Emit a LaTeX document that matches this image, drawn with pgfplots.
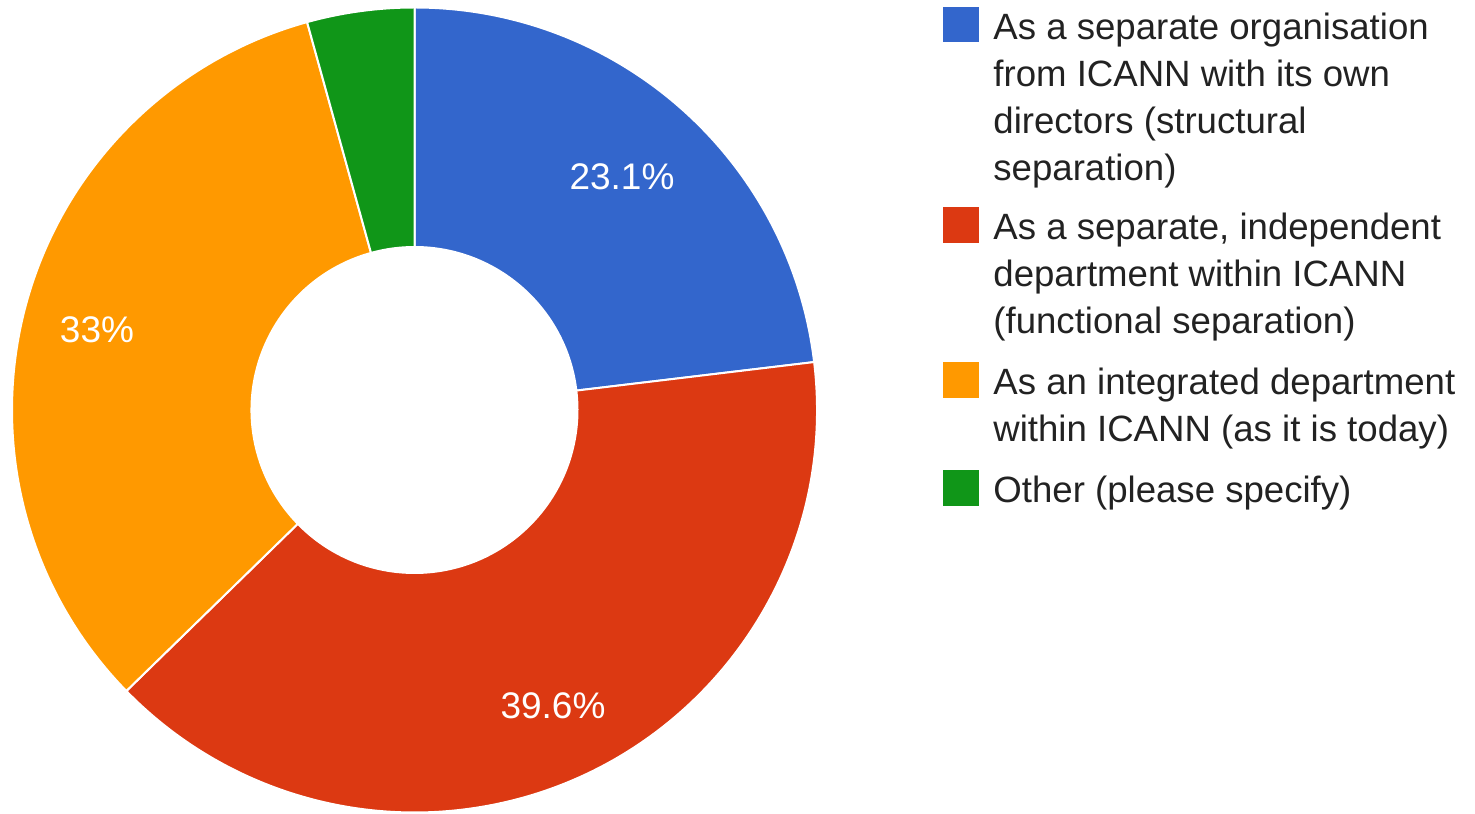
\documentclass[border=0pt]{standalone}
\usepackage{pgfplots}
\pgfplotsset{compat=1.18}
\usepackage{pgfplotstable}
\usepackage{fontspec}
\setmainfont{Liberation Sans}
\definecolor{gblue}{HTML}{3366CC}
\definecolor{gred}{HTML}{DC3912}
\definecolor{gorange}{HTML}{FF9900}
\definecolor{ggreen}{HTML}{109618}
\definecolor{gtext}{HTML}{222222}

\pgfplotstableread{
idx value
0 23.1
1 39.6
2 33.0
3 4.3
}\shares

\pgfplotstablegetelem{0}{value}\of\shares \pgfmathsetmacro\va{\pgfplotsretval}
\pgfplotstablegetelem{1}{value}\of\shares \pgfmathsetmacro\vb{\pgfplotsretval}
\pgfplotstablegetelem{2}{value}\of\shares \pgfmathsetmacro\vc{\pgfplotsretval}
\pgfplotstablegetelem{3}{value}\of\shares \pgfmathsetmacro\vd{\pgfplotsretval}
\pgfmathsetmacro\aA{90}
\pgfmathsetmacro\aB{\aA-3.6*\va}
\pgfmathsetmacro\aC{\aB-3.6*\vb}
\pgfmathsetmacro\aD{\aC-3.6*\vc}
\pgfmathsetmacro\aE{\aD-3.6*\vd}

% geometry in pixel units (1 unit = 0.5pt)
\def\cx{414.5}
\def\cy{403}
\def\Ro{402.5}
\def\Ri{163}

\newcommand\slice[3]{%
  \fill[#3, draw=white, line width=1pt]
    (axis cs:{\cx+\Ro*cos(#1)},{\cy+\Ro*sin(#1)})
    arc[start angle=#1, end angle=#2, radius=\Ro*0.5pt]
    -- (axis cs:{\cx+\Ri*cos(#2)},{\cy+\Ri*sin(#2)})
    arc[start angle=#2, end angle=#1, radius=\Ri*0.5pt] -- cycle;}

\begin{document}
\begin{tikzpicture}
\begin{axis}[
  scale only axis, x=0.5pt, y=0.5pt,
  xmin=0, xmax=1475, ymin=0, ymax=813,
  hide axis, clip=false]
\coordinate (BL) at (rel axis cs:0,0);
\coordinate (TR) at (rel axis cs:1,1);
\slice{\aA}{\aB}{gblue}
\slice{\aB}{\aC}{gred}
\slice{\aC}{\aD}{gorange}
\slice{\aD}{\aE}{ggreen}
% slice labels
\begin{scope}[every node/.style={white, font=\fontsize{18.5}{21}\selectfont}]
\node at (axis cs:622,636) {23.1\%};
\node at (axis cs:553,107) {39.6\%};
\node at (axis cs:97,483) {33\%};
\end{scope}
% legend
\fill[gblue]   (axis cs:943,806) rectangle (axis cs:979,771);
\fill[gred]    (axis cs:943,606) rectangle (axis cs:979,570);
\fill[gorange] (axis cs:943,451) rectangle (axis cs:979,415);
\fill[ggreen]  (axis cs:943,343) rectangle (axis cs:979,307);
\begin{scope}[every node/.style={anchor=base west, inner sep=0pt, text=gtext, font=\fontsize{18.3}{22}\selectfont}]
\node at (axis cs:993,773) {As a separate organisation};
\node at (axis cs:993,726) {from ICANN with its own};
\node at (axis cs:993,679) {directors (structural};
\node at (axis cs:993,632) {separation)};
\node at (axis cs:993,573) {As a separate, independent};
\node at (axis cs:993,526) {department within ICANN};
\node at (axis cs:993,479) {(functional separation)};
\node at (axis cs:993,418) {As an integrated department};
\node at (axis cs:993,371) {within ICANN (as it is today)};
\node at (axis cs:993,310) {Other (please specify)};
\end{scope}
\end{axis}
\pgfresetboundingbox
\path (BL) rectangle (TR);
\end{tikzpicture}
\end{document}
